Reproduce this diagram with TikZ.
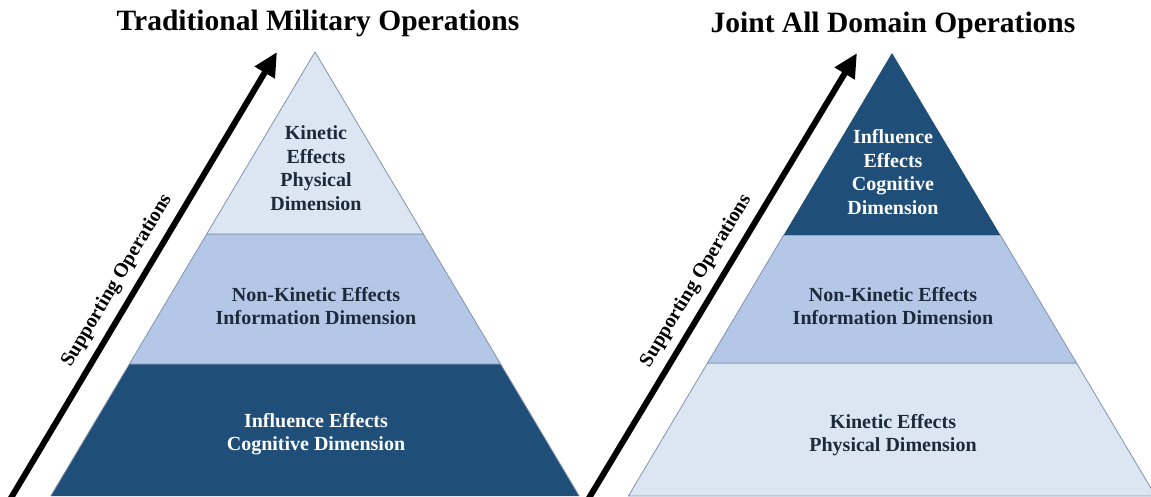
\documentclass[tikz,border=0pt]{standalone}
\usepackage{fontspec}
\setmainfont{Liberation Serif}
\usetikzlibrary{arrows.meta}
\definecolor{bandlight}{HTML}{DCE6F3}
\definecolor{bandmid}{HTML}{B4C7E7}
\definecolor{banddark}{HTML}{1F4E79}
\definecolor{edgecol}{HTML}{7F93B0}
\definecolor{textdark}{HTML}{1C2A3A}
\tikzset{
  band/.style={draw=edgecol, line width=0.8pt, line join=miter},
  bandtext/.style={align=center, font=\bfseries\fontsize{20}{23.5}\selectfont, inner sep=0pt},
  lighttext/.style={bandtext, text=textdark},
  darktext/.style={bandtext, text=white},
  titletext/.style={font=\bfseries\fontsize{29.5}{32}\selectfont, text=black, inner sep=0pt},
  suparrow/.style={line width=6pt, -{Triangle[length=24pt,width=22pt]}},
  suptext/.style={font=\bfseries\fontsize{20}{22}\selectfont, text=black, inner sep=0pt}
}
\begin{document}
\begin{tikzpicture}[x=1pt,y=-1pt]
\useasboundingbox (0,0) rectangle (1151,496);
\clip (0,0) rectangle (1151,496);
% ---------- left pyramid ----------
\fill[banddark] (129.4,364) -- (500.6,364) -- (579.2,496) -- (50.8,496) -- cycle;
\filldraw[band, fill=bandmid] (206.7,234) -- (423.3,234) -- (500.6,364) -- (129.4,364) -- cycle;
\filldraw[band, fill=bandlight] (315,52) -- (423.3,234) -- (206.7,234) -- cycle;
\draw[edgecol, line width=0.8pt] (500.6,364) -- (579.2,496);
\draw[edgecol, line width=0.8pt] (129.4,364) -- (50.8,496);
% ---------- right pyramid ----------
\filldraw[band, fill=bandlight] (707.5,363) -- (1076.5,363) -- (1155.6,496) -- (628.4,496) -- cycle;
\filldraw[band, fill=bandmid] (783.7,235) -- (1000.3,235) -- (1076.5,363) -- (707.5,363) -- cycle;
\fill[banddark] (892,53) -- (1000.3,235) -- (783.7,235) -- cycle;
% ---------- titles ----------
\node[titletext] (t1) at (318,23) {Traditional Military Operations};
\node[titletext] (t2) at (893,25) {Joint All Domain Operations};
% ---------- band texts ----------
\node[lighttext] (l1) at (316,168) {Kinetic\\Effects\\Physical\\Dimension};
\node[lighttext] (l2) at (316,306) {Non-Kinetic Effects\\Information Dimension};
\node[darktext] (l3) at (316,434) {Influence Effects\\Cognitive Dimension};
\node[darktext] (r1) at (893,172) {Influence\\Effects\\Cognitive\\Dimension};
\node[lighttext] (r2) at (893,306) {Non-Kinetic Effects\\Information Dimension};
\node[lighttext] (r3) at (893,435) {Kinetic Effects\\Physical Dimension};
% ---------- arrows ----------
\coordinate (a1s) at (8,503);
\coordinate (a1e) at (277,52);
\coordinate (a2s) at (586,503);
\coordinate (a2e) at (857,53);
\draw[suparrow] (a1s) -- node[suptext, sloped, above=8pt, pos=0.47] (s1) {Supporting Operations} (a1e);
\draw[suparrow] (a2s) -- node[suptext, sloped, above=8pt, pos=0.47] (s2) {Supporting Operations} (a2e);
\end{tikzpicture}
\end{document}
